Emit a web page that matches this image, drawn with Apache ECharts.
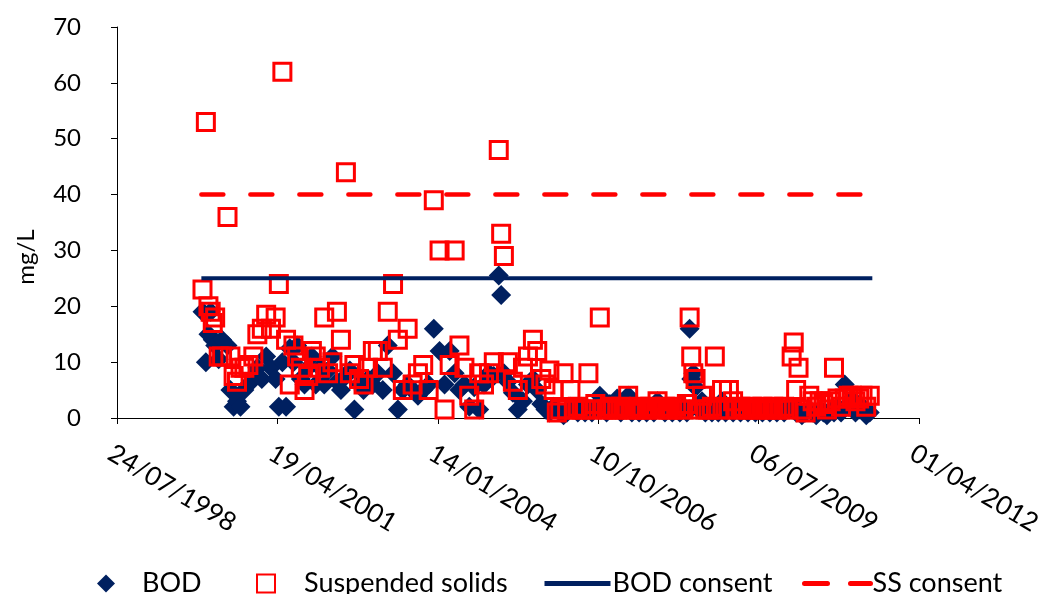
<!DOCTYPE html>
<html>
<head>
<meta charset="utf-8">
<script src="https://cdn.jsdelivr.net/npm/echarts@6/dist/echarts.min.js"></script>
<style>
  html, body { margin: 0; padding: 0; background: #ffffff; }
  #chart { width: 1053px; height: 594px; }
</style>
</head>
<body>
<div id="chart"></div>
<script>
// Effluent sampling results: sample date, BOD and suspended solids (mg/L)
const sampleDates = [
  '2000-01-08','2000-01-29','2000-02-14','2000-02-28','2000-03-12','2000-03-27','2000-04-18','2000-05-09',
  '2000-06-12','2000-06-30','2000-07-20','2000-08-10','2000-09-01','2000-09-25','2000-10-20','2000-11-20',
  '2000-12-15','2001-01-12','2001-02-08','2001-03-10','2001-04-08','2001-04-28','2001-05-20','2001-06-12',
  '2001-07-05','2001-07-28','2001-08-20','2001-09-12','2001-10-05','2001-10-28','2001-11-20','2001-12-14',
  '2002-01-10','2002-02-05','2002-03-01','2002-03-28','2002-04-25','2002-05-20','2002-06-20','2002-07-15',
  '2002-08-12','2002-09-10','2002-10-08','2002-11-05','2002-12-05','2003-01-05','2003-02-05','2003-03-08',
  '2003-04-10','2003-05-10','2003-06-10','2003-07-10','2003-08-10','2003-09-12','2003-10-15','2003-11-18',
  '2003-12-20','2004-01-25','2004-02-25','2004-03-28','2004-04-28','2004-05-28','2004-06-28','2004-07-28',
  '2004-08-28','2004-09-28','2004-10-28','2004-11-28','2004-12-28','2005-01-28','2005-02-12','2005-03-01',
  '2005-03-26','2005-04-26','2005-05-27','2005-06-28','2005-07-29','2005-08-29','2005-09-25','2005-10-20',
  '2005-11-15','2005-12-10','2006-01-05','2006-01-25','2006-02-15','2006-03-08','2006-03-30','2006-04-20',
  '2006-05-12','2006-06-05','2006-06-28','2006-07-20','2006-08-10','2006-09-01','2006-09-22','2006-10-20',
  '2006-11-10','2006-12-01','2006-12-22','2007-01-12','2007-02-05','2007-02-28','2007-03-22','2007-04-15',
  '2007-05-08','2007-05-30','2007-06-22','2007-07-15','2007-08-08','2007-08-30','2007-09-22','2007-10-15',
  '2007-11-08','2007-11-30','2007-12-22','2008-01-15','2008-02-08','2008-03-02','2008-03-25','2008-04-15',
  '2008-05-02','2008-05-12','2008-05-25','2008-06-08','2008-06-28','2008-07-18','2008-08-08','2008-08-28',
  '2008-09-18','2008-10-06','2008-10-28','2008-11-20','2008-12-12','2009-01-02','2009-01-28','2009-02-20',
  '2009-03-15','2009-04-08','2009-05-01','2009-05-25','2009-06-16','2009-07-08','2009-07-30','2009-08-22',
  '2009-09-14','2009-10-06','2009-10-28','2009-11-20','2009-12-12','2010-01-05','2010-01-28','2010-02-10',
  '2010-02-25','2010-03-12','2010-04-02','2010-04-25','2010-05-18','2010-06-08','2010-06-30','2010-07-22',
  '2010-08-14','2010-09-05','2010-09-28','2010-10-19','2010-11-10','2010-12-02','2010-12-25','2011-01-18',
  '2011-02-08','2011-03-02','2011-03-25','2011-04-15','2011-05-08','2011-05-30'
];

const bodValues = [
  19, 10, 15, 19, 14, 13, 10.5, 14,
  13, 5, 2, 3, 2, 5, 6, 7.5,
  9, 7, 11, 9, 7, 2, 10, 2,
  12.5, 10, 13, 7, 6, 9, 11, 6,
  9, 6, 8.5, 11, 6.5, 5, 7.5, 8.5,
  1.5, 6, 5, 7, 6, 8, 5, 13,
  8, 1.5, 5, 6, 5, 4, 5, 6,
  16, 12, 6, 12, 8, 5, 6, 2,
  5.5, 1.5, 6, 8, 7.5, 25.5, 22, 8,
  6.5, 4.5, 1.5, 3, 6, 7, 5, 2.5,
  1.5, 1, 2, 1.5, 1, 0.5, 1, 2,
  1.5, 1, 2, 1, 1.5, 1, 2, 4,
  1.5, 1, 2.5, 1.5, 3.5, 1, 1.5, 4,
  1, 1.5, 1, 1.5, 1, 2, 1, 3,
  1.5, 1, 1.5, 1, 1.5, 1, 2, 1,
  16, 7, 8, 5.5, 1.5, 3, 1, 1.5,
  1, 1.5, 1, 3, 1, 1.5, 1, 1.5,
  1, 1.5, 1, 1.5, 1, 1.5, 1, 1.5,
  1, 1.5, 1, 1.5, 1, 2, 1.5, 2,
  1, 1.5, 0.5, 1, 1.5, 1, 0.5, 1.5,
  1, 0.5, 1.5, 1, 2, 1, 6, 2,
  3.5, 1, 1.5, 2, 0.5, 1
];

const ssValues = [
  23, 53, 20, 19, 17, 18, 11, 11,
  36, 11, 7.5, 6.5, 9, 9, 9.5, 11,
  15, 16, 18.5, 16, 18, 24, 62, 14,
  6, 13, 11, 9, 5, 7.5, 12, 11,
  9, 18, 8, 10, 19, 14, 44, 8,
  9.5, 7, 6, 9, 12, 12, 9, 19,
  24, 14, 5, 16, 6, 8, 9.5, 5,
  39, 30, 1.5, 9.5, 30, 13, 9, 4,
  1.5, 8, 6, 8, 10, 48, 33, 29,
  10, 6.5, 5, 9, 11, 14, 12, 7,
  6, 8.5, 5, 1, 1.5, 8, 1.5, 5,
  1.5, 2, 1.5, 1.5, 8, 1.5, 2.5, 18,
  1.5, 1.5, 2, 1.5, 1.5, 2, 1.5, 4,
  1.5, 1.5, 2, 1.5, 1.5, 2, 1.5, 3,
  1.5, 2, 1.5, 1.5, 2, 1.5, 1.5, 2.5,
  18, 11, 8, 7, 1.5, 4, 1.5, 1.5,
  2, 11, 1.5, 5, 1.5, 5, 3, 1.5,
  2, 1.5, 1.5, 2, 1.5, 1.5, 2, 1.5,
  1.5, 2, 1.5, 1.5, 2, 1.5, 11, 13.5,
  5, 9, 1.5, 1, 4, 3, 2, 3,
  2.5, 1.5, 3, 9, 3.5, 2, 3.5, 4,
  4, 3, 3.5, 4, 2, 4
];

// Discharge consent limits (mg/L) and the period they apply to
const consentPeriod = ['2000-01-01', '2011-06-15'];
const bodConsent = 25;
const ssConsent = 40;

// Date axis: day counts from the first tick, one tick every 1000 days
const axisOrigin = '1998-07-24';
const axisSpanDays = 5000;
const tickStepDays = 1000;

const DAY_MS = 86400000;
function dayOffset(iso) {
  return (Date.parse(iso + 'T00:00:00Z') - Date.parse(axisOrigin + 'T00:00:00Z')) / DAY_MS;
}
function formatDay(offset) {
  const d = new Date(Date.parse(axisOrigin + 'T00:00:00Z') + offset * DAY_MS);
  const dd = String(d.getUTCDate()).padStart(2, '0');
  const mm = String(d.getUTCMonth() + 1).padStart(2, '0');
  return dd + '/' + mm + '/' + d.getUTCFullYear();
}

const bodPoints = sampleDates.map((d, i) => [dayOffset(d), bodValues[i]]);
const ssPoints = sampleDates.map((d, i) => [dayOffset(d), ssValues[i]]);
const bodConsentLine = consentPeriod.map(d => [dayOffset(d), bodConsent]);
const ssConsentLine = consentPeriod.map(d => [dayOffset(d), ssConsent]);

const FONT = 'Lato';
const NAVY = '#002060';
const RED = '#FF0000';

// one legend block per entry so marker and line samples keep their own widths
function legendEntry(name, left, width, height, textPad, extra) {
  return Object.assign({
    left: left,
    top: 565,
    itemWidth: width,
    itemHeight: height,
    itemGap: 0,
    selectedMode: false,
    textStyle: { fontSize: 27, fontFamily: FONT, color: '#000', padding: [0, 0, 0, textPad] },
    data: [name]
  }, extra || {});
}

const chart = echarts.init(document.getElementById('chart'), null, { renderer: 'canvas' });
chart.setOption({
  animation: false,
  backgroundColor: '#ffffff',
  textStyle: { fontFamily: FONT, color: '#000' },
  grid: { left: 117, right: 134, top: 27, bottom: 176, containLabel: false },
  xAxis: {
    type: 'value',
    min: 0,
    max: axisSpanDays,
    interval: tickStepDays,
    axisLine: { show: true, lineStyle: { color: '#000', width: 1 } },
    axisTick: { show: true, inside: false, length: 6, lineStyle: { color: '#000' } },
    splitLine: { show: false },
    axisLabel: {
      rotate: -31,
      margin: 22,
      fontSize: 26,
      fontFamily: FONT,
      color: '#000',
      align: 'left',
      verticalAlign: 'top',
      showMinLabel: true,
      showMaxLabel: true,
      formatter: v => formatDay(v)
    }
  },
  yAxis: {
    type: 'value',
    min: 0,
    max: 70,
    interval: 10,
    axisLine: { show: true, lineStyle: { color: '#000', width: 1 } },
    axisTick: { show: true, inside: false, length: 6, lineStyle: { color: '#000' } },
    splitLine: { show: false },
    axisLabel: { fontSize: 24, fontFamily: FONT, color: '#000', margin: 36 }
  },
  graphic: [{
    type: 'text',
    x: 26,
    y: 257,
    rotation: Math.PI / 2,
    style: {
      text: 'mg/L',
      font: '24px ' + FONT,
      fill: '#000',
      textAlign: 'center',
      textVerticalAlign: 'middle'
    }
  }],
  legend: [
    legendEntry('BOD', 92, 18, 18, 22),
    legendEntry('Suspended solids', 251, 18, 18, 24),
    legendEntry('BOD consent', 537, 66, 18, -3, {
      itemStyle: { opacity: 0 },
      lineStyle: { width: 5 }
    }),
    legendEntry('SS consent', 797, 66, 18, -3, {
      itemStyle: { opacity: 0 },
      lineStyle: { width: 5, type: [23, 23], cap: 'round' }
    })
  ],
  series: [
    {
      name: 'BOD',
      type: 'scatter',
      symbol: 'diamond',
      symbolSize: 20,
      itemStyle: { color: NAVY, opacity: 1 },
      emphasis: { disabled: true },
      data: bodPoints,
      z: 2
    },
    {
      name: 'Suspended solids',
      type: 'scatter',
      symbol: 'rect',
      symbolSize: 17,
      itemStyle: { color: 'rgba(255,255,255,0)', borderColor: RED, borderWidth: 3, opacity: 1 },
      emphasis: { disabled: true },
      data: ssPoints,
      z: 3
    },
    {
      name: 'BOD consent',
      type: 'line',
      symbol: 'none',
      showSymbol: false,
      lineStyle: { color: NAVY, width: 4 },
      itemStyle: { color: NAVY },
      emphasis: { disabled: true },
      data: bodConsentLine,
      z: 4
    },
    {
      name: 'SS consent',
      type: 'line',
      symbol: 'none',
      showSymbol: false,
      lineStyle: { color: RED, width: 4.5, type: [22, 27], cap: 'round' },
      itemStyle: { color: RED },
      emphasis: { disabled: true },
      data: ssConsentLine,
      z: 4
    }
  ]
});
</script>
</body>
</html>
